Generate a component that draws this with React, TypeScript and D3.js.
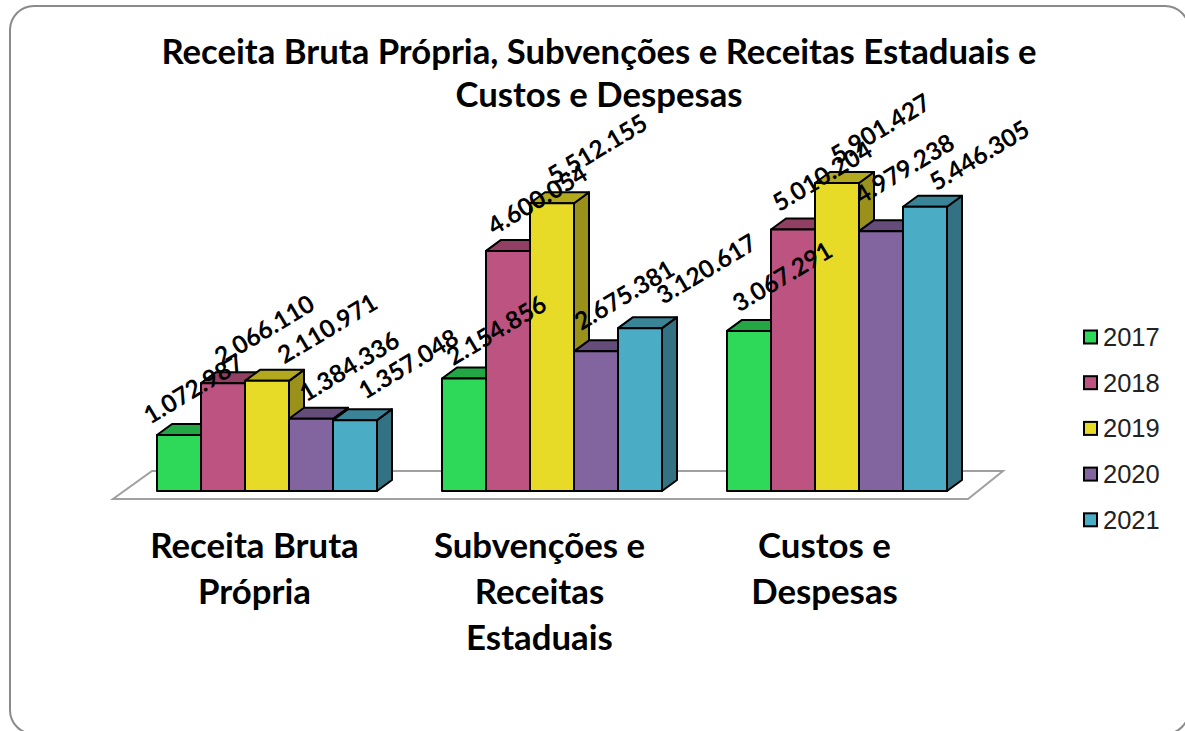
import React from "react";
import * as d3 from "d3";

const titleLines = ["Receita Bruta Própria, Subvenções e Receitas Estaduais e", "Custos e Despesas"];
const categories = ["Receita Bruta Própria", "Subvenções e Receitas Estaduais", "Custos e Despesas"];
const categoryLines = [["Receita Bruta", "Própria"], ["Subvenções e", "Receitas", "Estaduais"], ["Custos e", "Despesas"]];
const years = ["2017", "2018", "2019", "2020", "2021"];
const values2017 = [1072987, 2154856, 3067291];
const values2018 = [2066110, 4600054, 5010204];
const values2019 = [2110971, 5512155, 5901427];
const values2020 = [1384336, 2675381, 4979238];
const values2021 = [1357048, 3120617, 5446305];
const series = [values2017, values2018, values2019, values2020, values2021];
const colors = ["#2ed858", "#bc5380", "#e8db27", "#82649f", "#4bacc6"];

// label placement (layout, px offset from the top centre of each bar) per year, per category
const labelOffsets = [
  [[14, -47], [32, -49], [33, -55]],
  [[41, -54], [29, -52], [29, -54]],
  [[60, -53], [45, -55], [43, -55]],
  [[38, -53], [28, -57], [23, -63]],
  [[53, -57], [66, -60], [54, -52]],
];

const W = 1185, H = 731;
const baseY = 491, depthX = 15, depthY = 11;
const y = d3.scaleLinear().domain([0, 5901427]).range([baseY, 183]);
const xCat = d3.scalePoint<string>().domain(categories).range([267, 837]);
const xYear = d3.scaleBand<string>().domain(years).range([-110, 110]);
const shade = (c: string, k: number) => {
  const r = d3.rgb(c);
  return d3.rgb(r.r * k, r.g * k, r.b * k).formatHex();
};
const line = d3.line();
const poly = (pts: [number, number][]) => line(pts) + "Z";
const textFont = "Lato, 'Noto Sans', sans-serif";

export default function App() {
  const bw = xYear.bandwidth();
  return (
    <svg width={W} height={H} style={{ position: "absolute", left: 0, top: 0, background: "#fff" }}>
      <rect x={10} y={6} width={1179} height={728} rx={24} ry={24} fill="#fff" stroke="#8a8a8a" strokeWidth={2} />
      <g fontFamily={textFont} fontWeight={700} fontSize={34.7} fill="#000" textAnchor="middle">
        {titleLines.map((t, i) => (
          <text key={t} x={599} y={64 + i * 43}>{t}</text>
        ))}
      </g>
      <path d={poly([[113, 499], [968, 499], [1003, 471], [152, 471]])} fill="#fff" stroke="#a0a0a0" strokeWidth={2} />
      {categories.map((cat, ci) => (
        <g key={cat}>
          {years.map((yr, si) => {
            const x0 = xCat(cat)! + xYear(yr)!;
            const x1 = x0 + bw;
            const top = y(series[si][ci]);
            return (
              <g key={yr} stroke="#000" strokeWidth={2} strokeLinejoin="round">
                <path fill={shade(colors[si], 0.66)} d={poly([[x1, baseY], [x1 + depthX, baseY - depthY], [x1 + depthX, top - depthY], [x1, top]])} />
                <path fill={shade(colors[si], 0.77)} d={poly([[x0, top], [x0 + depthX, top - depthY], [x1 + depthX, top - depthY], [x1, top]])} />
                <rect x={x0} y={top} width={bw} height={baseY - top} fill={colors[si]} />
              </g>
            );
          })}
        </g>
      ))}
      <g fontFamily={textFont} fontWeight={700} fontSize={24.5} fill="#000" textAnchor="middle" dominantBaseline="central">
        {categories.map((cat, ci) =>
          years.map((yr, si) => {
            const [dx, dy] = labelOffsets[si][ci];
            const lx = xCat(cat)! + xYear(yr)! + bw / 2 + dx;
            const ly = y(series[si][ci]) + dy;
            return (
              <text key={cat + yr} transform={`translate(${lx},${ly}) rotate(-31)`}>
                {d3.format(",")(series[si][ci]).replace(/,/g, ".")}
              </text>
            );
          })
        )}
      </g>
      <g fontFamily={textFont} fontWeight={700} fontSize={34.8} fill="#000" textAnchor="middle">
        {categoryLines.map((lines, ci) =>
          lines.map((t, li) => (
            <text key={t} x={xCat(categories[ci])! - 12.5} y={558 + li * 46}>{t}</text>
          ))
        )}
      </g>
      {years.map((yr, si) => {
        const ly = 337 + si * 45.7;
        return (
          <g key={yr}>
            <rect x={1084} y={ly - 6.5} width={13} height={13} fill={colors[si]} stroke="#000" strokeWidth={2} />
            <text x={1103} y={ly + 9} fontFamily="'Liberation Sans', Arial, sans-serif" fontSize={25.5} fill="#222">{yr}</text>
          </g>
        );
      })}
    </svg>
  );
}
